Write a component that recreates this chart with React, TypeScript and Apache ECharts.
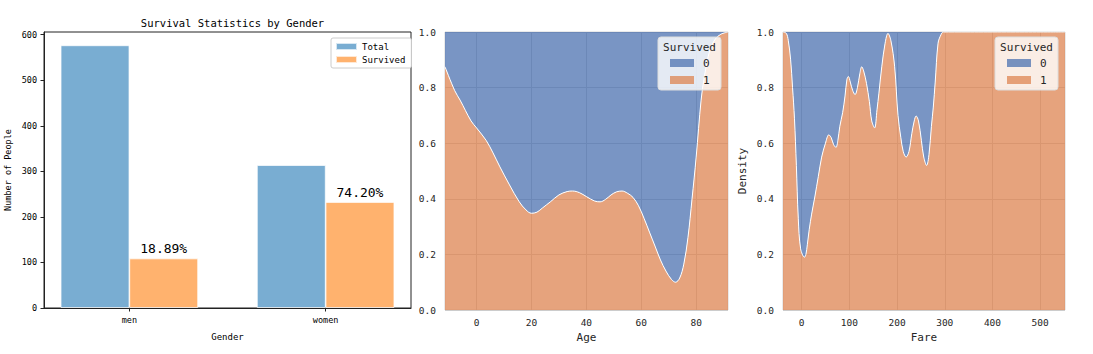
import React, { useEffect, useRef } from "react";
import * as echarts from "echarts";

const MONO = "DejaVu Sans Mono";

// Left chart: survival statistics by gender
const GENDERS = ["men", "women"];
const TOTAL = [577, 314];
const SURVIVED = [109, 233];
const SURVIVAL_PCT = ["18.89%", "74.20%"];
const COUNT_TICKS = [0, 100, 200, 300, 400, 500, 600];

// Middle chart: proportion of survivors by age (fill KDE)
const AGE_X = [-11.5, -8, -6, -2, 0, 3.5, 6, 8.5, 12, 15.5, 18, 20, 22, 24, 27, 30, 33, 35, 37.5, 40, 43, 45, 47, 49, 51, 53, 55, 57, 59, 61, 63, 65, 67, 69, 71, 72.5, 74, 75.5, 77, 78.5, 80, 81.8, 83, 85, 87, 89, 91.6];
const AGE_Y = [0.875, 0.79, 0.755, 0.68, 0.655, 0.61, 0.565, 0.515, 0.45, 0.39, 0.36, 0.348, 0.352, 0.367, 0.39, 0.414, 0.426, 0.428, 0.422, 0.408, 0.392, 0.389, 0.398, 0.414, 0.425, 0.428, 0.42, 0.405, 0.375, 0.33, 0.28, 0.23, 0.18, 0.14, 0.11, 0.1, 0.115, 0.165, 0.26, 0.4, 0.55, 0.755, 0.84, 0.935, 0.975, 0.992, 1.0];
const AGE_TICKS = [0, 20, 40, 60, 80];

// Right chart: proportion of survivors by fare (fill KDE)
const FARE_X = [-39, -32, -28, -23, -19, -15, -11, -7, -2, 6, 9, 12, 16, 21, 28, 35, 42, 50, 57, 62, 67, 72, 76, 80, 86, 91, 95, 98, 102, 107, 112, 117, 122, 126, 130, 136, 142, 147, 153, 158, 162, 168, 175, 181, 187, 195, 202, 208, 213, 219, 225, 231, 236, 240, 245, 251, 256, 262, 267, 272, 276, 280, 286, 292, 297, 320, 552];
const FARE_Y = [1.0, 0.995, 0.97, 0.9, 0.8, 0.69, 0.52, 0.33, 0.22, 0.19, 0.2, 0.235, 0.29, 0.345, 0.41, 0.48, 0.55, 0.6, 0.63, 0.62, 0.595, 0.585, 0.61, 0.66, 0.71, 0.77, 0.83, 0.84, 0.82, 0.79, 0.775, 0.8, 0.85, 0.875, 0.86, 0.815, 0.75, 0.68, 0.655, 0.72, 0.78, 0.875, 0.96, 0.995, 0.97, 0.875, 0.7, 0.62, 0.57, 0.55, 0.57, 0.635, 0.68, 0.698, 0.68, 0.61, 0.55, 0.52, 0.56, 0.66, 0.73, 0.82, 0.96, 0.99, 1.0, 1.0, 1.0];
const FARE_TICKS = [0, 100, 200, 300, 400, 500];

const PROP_TICKS = [0, 0.2, 0.4, 0.6, 0.8, 1.0];
const HUES = ["0", "1"];

const BLUE = "#4c72b0";
const ORANGE = "#dd8452";
const TXT = "#262626";

function zip(xs: number[], ys: number[]) {
  return xs.map((x, i) => [x, ys[i]]);
}

function kdeLegend(boxX: number, boxY: number) {
  const w = 63;
  return [
    {
      type: "rect",
      z: 10,
      shape: { x: boxX, y: boxY, width: w, height: 53, r: 3 },
      style: { fill: "rgba(255,255,255,0.8)", stroke: "#dddddd", lineWidth: 1 },
    },
    {
      type: "text",
      z: 11,
      x: boxX + w / 2,
      y: boxY + 10,
      style: { text: "Survived", fontFamily: MONO, fontSize: 11, fill: TXT, align: "center", verticalAlign: "middle" },
    },
    ...HUES.map((h, i) => ({
      type: "rect",
      z: 11,
      shape: { x: boxX + 12, y: boxY + 22 + i * 17, width: 24, height: 8 },
      style: { fill: i === 0 ? BLUE : ORANGE, opacity: 0.75 },
    })),
    ...HUES.map((h, i) => ({
      type: "text",
      z: 11,
      x: boxX + 45,
      y: boxY + 26 + i * 17,
      style: { text: h, fontFamily: MONO, fontSize: 11, fill: TXT, align: "left", verticalAlign: "middle" },
    })),
  ];
}

export default function App() {
  const ref = useRef<HTMLDivElement>(null);
  useEffect(() => {
    if (!ref.current) return;
    const chart = echarts.init(ref.current, null, { renderer: "svg" });
    const propAxis = (gi: number, name: string) => ({
      type: "value",
      gridIndex: gi,
      min: 0,
      max: 1,
      name,
      nameLocation: "middle",
      nameGap: 35,
      nameTextStyle: { fontSize: 11, color: TXT, fontFamily: MONO },
      axisLine: { show: false },
      axisTick: { show: false, customValues: PROP_TICKS },
      axisLabel: {
        customValues: PROP_TICKS,
        formatter: (v: number) => v.toFixed(1),
        fontSize: 9.5,
        color: TXT,
        margin: 9,
        fontFamily: MONO,
      },
      splitLine: { show: true, lineStyle: { color: "#cccccc", width: 1 } },
    });
    const kdeX = (gi: number, name: string, min: number, max: number, ticks: number[]) => ({
      type: "value",
      gridIndex: gi,
      min,
      max,
      name,
      nameLocation: "middle",
      nameGap: 21,
      nameTextStyle: { fontSize: 11, color: TXT, fontFamily: MONO },
      axisLine: { show: false },
      axisTick: { show: false, customValues: ticks },
      axisLabel: { customValues: ticks, fontSize: 9.5, color: TXT, margin: 7, fontFamily: MONO },
      splitLine: { show: true, lineStyle: { color: "#cccccc", width: 1 } },
    });
    const kdeSeries = (xi: number, xs: number[], ys: number[]) => [
      {
        type: "line",
        name: "1",
        xAxisIndex: xi,
        yAxisIndex: xi,
        data: zip(xs, ys),
        smooth: 0.35,
        showSymbol: false,
        symbol: "none",
        lineStyle: { width: 0, color: ORANGE },
        itemStyle: { color: ORANGE },
        areaStyle: { color: ORANGE, opacity: 0.75, origin: "start" },
        z: 2,
      },
      {
        type: "line",
        name: "0",
        xAxisIndex: xi,
        yAxisIndex: xi,
        data: zip(xs, ys),
        smooth: 0.35,
        showSymbol: false,
        symbol: "none",
        lineStyle: { width: 1, color: "#ffffff" },
        itemStyle: { color: BLUE },
        areaStyle: { color: BLUE, opacity: 0.75, origin: "end" },
        z: 3,
      },
    ];

    chart.setOption({
      animation: false,
      textStyle: { fontFamily: MONO },
      title: {
        text: "Survival Statistics by Gender",
        left: 227.5,
        textAlign: "center",
        top: 12,
        textStyle: { fontFamily: MONO, fontSize: 10.5, fontWeight: "normal", color: "#000" },
      },
      legend: {
        left: 331,
        top: 38,
        orient: "vertical",
        data: ["Total", "Survived"],
        icon: "rect",
        itemWidth: 21,
        itemHeight: 7,
        itemGap: 4,
        padding: [4, 6, 4, 4],
        backgroundColor: "#ffffff",
        borderColor: "#cccccc",
        borderWidth: 1,
        borderRadius: 2,
        selectedMode: false,
        textStyle: { fontFamily: MONO, fontSize: 9, color: "#000" },
      },
      grid: [
        { left: 44, top: 32, width: 367, height: 276, show: true, borderColor: "#222", borderWidth: 1, backgroundColor: "#fff" },
        { left: 445, top: 32, width: 283, height: 278, show: true, borderColor: "#d5d5d5", borderWidth: 1, backgroundColor: "#fff" },
        { left: 783, top: 32, width: 282, height: 278, show: true, borderColor: "#d5d5d5", borderWidth: 1, backgroundColor: "#fff" },
      ],
      xAxis: [
        {
          type: "value",
          gridIndex: 0,
          min: -0.435,
          max: 1.435,
          name: "Gender",
          nameLocation: "middle",
          nameGap: 24,
          nameTextStyle: { fontSize: 9, color: "#000", fontFamily: MONO },
          axisLine: { show: true, onZero: false, lineStyle: { color: "#222" } },
          axisTick: { show: true, length: 3.5, customValues: [0, 1], lineStyle: { color: "#222" } },
          axisLabel: {
            customValues: [0, 1],
            formatter: (v: number) => GENDERS[Math.round(v)] ?? "",
            fontSize: 8.5,
            color: "#000",
            margin: 7,
            fontFamily: MONO,
          },
          splitLine: { show: false },
        },
        kdeX(1, "Age", -11.5, 91.6, AGE_TICKS),
        kdeX(2, "Fare", -39, 552, FARE_TICKS),
      ],
      yAxis: [
        {
          type: "value",
          gridIndex: 0,
          min: 0,
          max: 606,
          name: "Number of People",
          nameLocation: "middle",
          nameGap: 32,
          nameTextStyle: { fontSize: 8.5, color: "#000", fontFamily: MONO },
          axisLine: { show: true, onZero: false, lineStyle: { color: "#222" } },
          axisTick: { show: true, length: 3.5, customValues: COUNT_TICKS, lineStyle: { color: "#222" } },
          axisLabel: { customValues: COUNT_TICKS, fontSize: 8.5, color: "#000", margin: 7, fontFamily: MONO },
          splitLine: { show: false },
        },
        { ...propAxis(1, ""), name: "" },
        propAxis(2, "Density"),
      ],
      series: [
        {
          type: "bar",
          name: "Total",
          xAxisIndex: 0,
          yAxisIndex: 0,
          data: TOTAL.map((v, i) => [i - 0.175, v]),
          barWidth: 69,
          barGap: "-100%",
          itemStyle: { color: "#79add2", borderColor: "rgba(255,255,255,0.7)", borderWidth: 1 },
        },
        {
          type: "bar",
          name: "Survived",
          xAxisIndex: 0,
          yAxisIndex: 0,
          data: SURVIVED.map((v, i) => [i + 0.175, v]),
          barWidth: 69,
          barGap: "-100%",
          itemStyle: { color: "#ffb26e", borderColor: "rgba(255,255,255,0.7)", borderWidth: 1 },
          label: {
            show: true,
            position: "top",
            distance: 3,
            formatter: (p: any) => SURVIVAL_PCT[p.dataIndex],
            fontSize: 13,
            color: "#000",
            fontFamily: MONO,
          },
        },
        ...kdeSeries(1, AGE_X, AGE_Y),
        ...kdeSeries(2, FARE_X, FARE_Y),
      ],
      graphic: [...kdeLegend(658, 37), ...kdeLegend(995, 37)],
    });
    return () => chart.dispose();
  }, []);
  return (
    <div
      ref={ref}
      style={{ position: "absolute", left: 0, top: 0, width: 1093, height: 354, background: "#fff" }}
    />
  );
}
